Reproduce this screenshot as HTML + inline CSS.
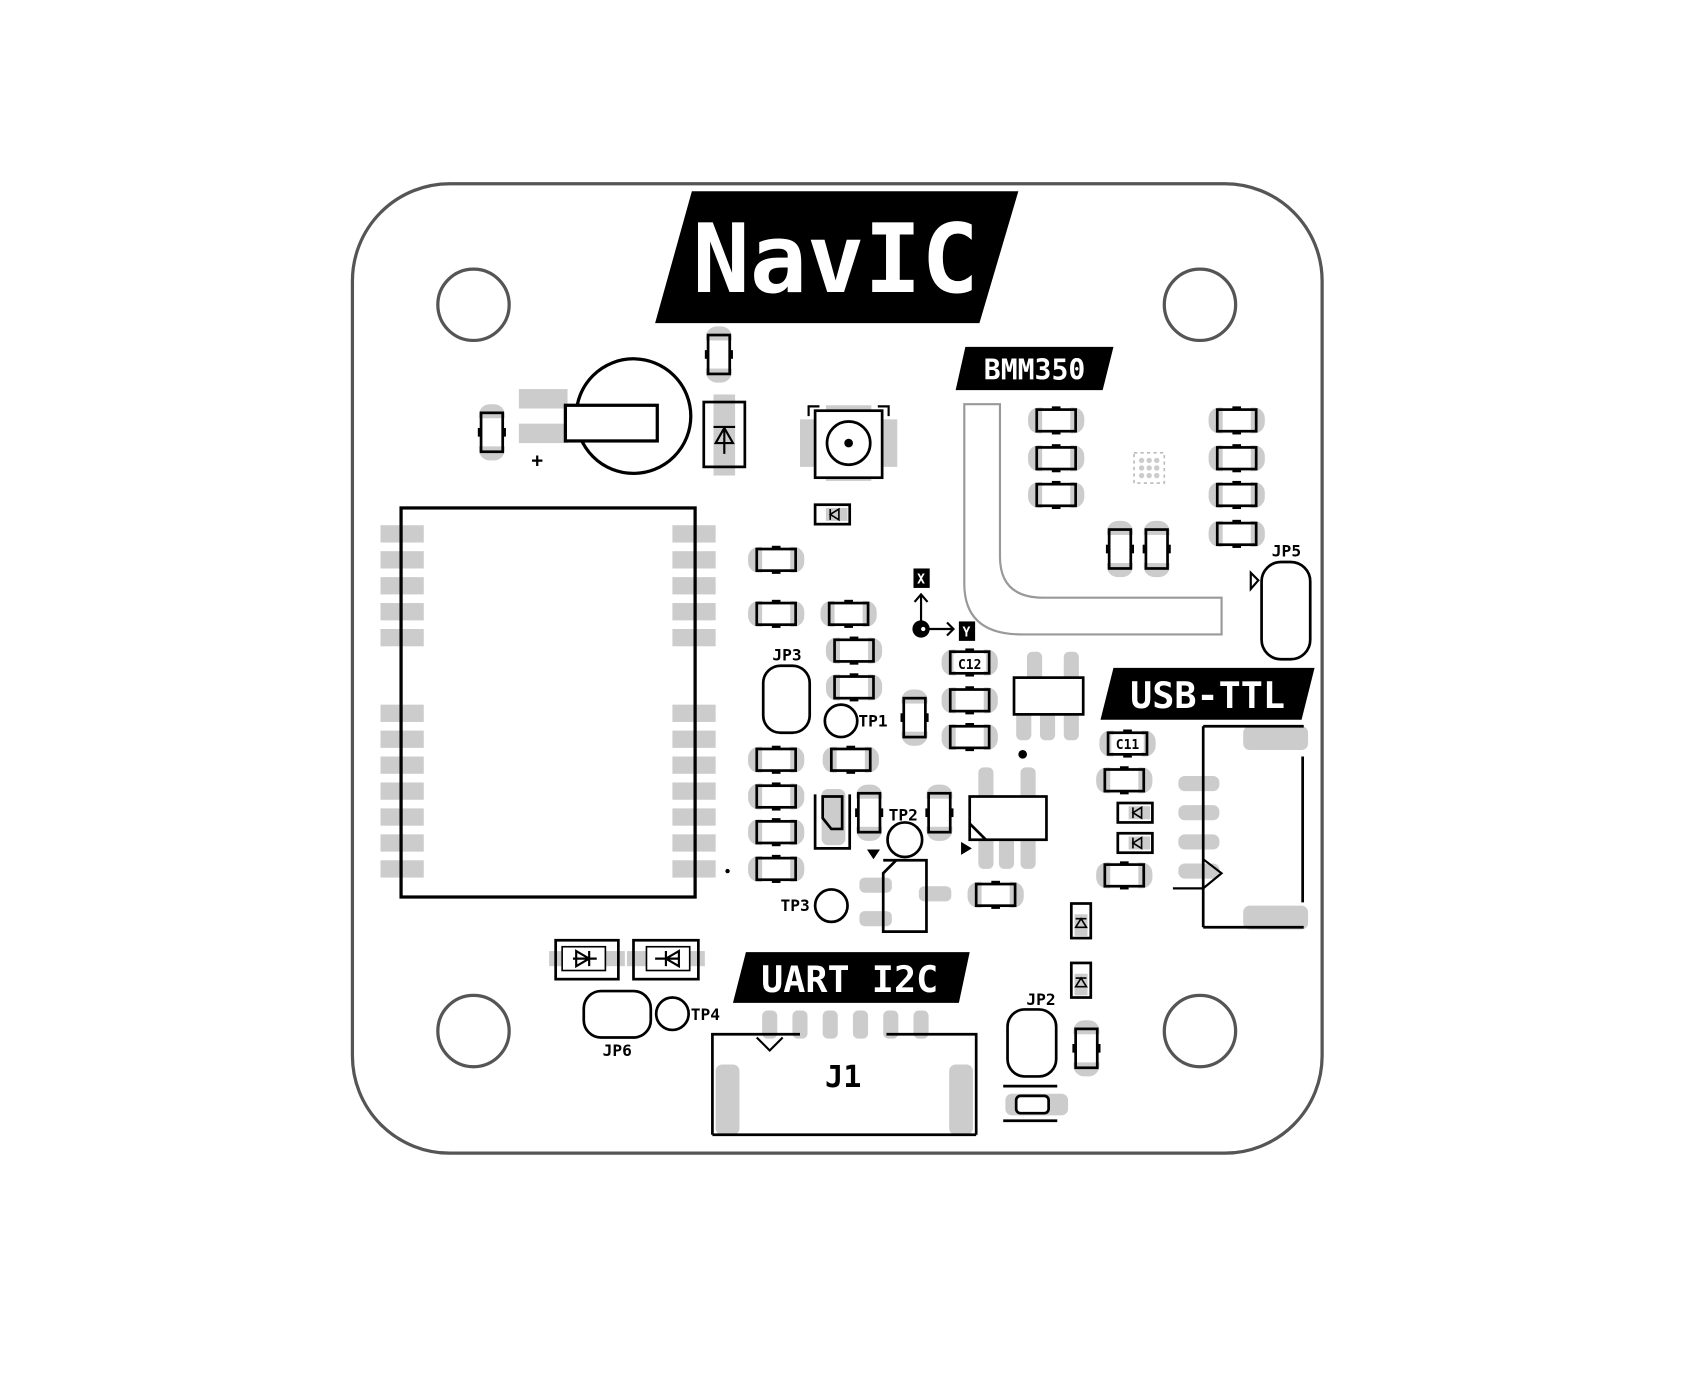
<!DOCTYPE html>
<html><head><meta charset="utf-8"><style>
html,body{margin:0;padding:0;background:#fff;}
svg{display:block;}
text{font-family:"DejaVu Sans Mono","Liberation Mono",monospace;font-weight:bold;}
</style></head><body>
<svg width="1694" height="1392" viewBox="0 0 1567 1288" preserveAspectRatio="none" xmlns="http://www.w3.org/2000/svg">
<defs>
<g id="r"><rect x="-26" y="-12" width="52" height="24" rx="10" fill="#ccc"/><rect x="-13" y="-12" width="26" height="24" fill="#fff"/><rect x="-18" y="-10" width="36" height="20" fill="none" stroke="#000" stroke-width="2.5"/><rect x="-4" y="-13" width="8" height="3" fill="#000"/><rect x="-4" y="10" width="8" height="3" fill="#000"/></g>
<g id="rv"><use href="#r" transform="rotate(90)"/></g>
<g id="d"><rect x="-16" y="-9" width="32" height="18" fill="#fff" stroke="#000" stroke-width="2.5"/><rect x="-6" y="-6" width="20" height="12" fill="#ccc"/><path d="M-2 -5 L-2 5 M6 -5 L-2 0 L6 5 Z" stroke="#000" stroke-width="1.5" fill="none"/></g>
</defs>
<rect width="1567" height="1288" fill="#fff"/>
<rect x="326" y="170" width="897" height="897" rx="90" fill="#fff" stroke="#555" stroke-width="3"/>
<g fill="#fff" stroke="#555" stroke-width="3">
<circle cx="438" cy="282" r="33"/><circle cx="1110" cy="282" r="33"/><circle cx="438" cy="954" r="33"/><circle cx="1110" cy="954" r="33"/>
</g>
<polygon points="640,177 942,177 906,299 606,299" fill="#000"/>
<text x="773" y="270" font-size="88" fill="#fff" text-anchor="middle">NavIC</text>
<polygon points="893,321 1030,321 1020,361 884,361" fill="#000"/>
<text x="957" y="351" font-size="26" fill="#fff" text-anchor="middle">BMM350</text>
<polygon points="1030,618 1216,618 1204,666 1018,666" fill="#000"/>
<text x="1117" y="655" font-size="34" fill="#fff" text-anchor="middle">USB-TTL</text>
<polygon points="690,881 897,881 887,928 678,928" fill="#000"/>
<text x="786" y="918" font-size="34" fill="#fff" text-anchor="middle" xml:space="preserve">UART I2C</text>
<g fill="#ccc">
<rect x="352" y="486" width="40" height="16"/><rect x="352" y="510" width="40" height="16"/><rect x="352" y="534" width="40" height="16"/><rect x="352" y="558" width="40" height="16"/><rect x="352" y="582" width="40" height="16"/>
<rect x="352" y="652" width="40" height="16"/><rect x="352" y="676" width="40" height="16"/><rect x="352" y="700" width="40" height="16"/><rect x="352" y="724" width="40" height="16"/><rect x="352" y="748" width="40" height="16"/><rect x="352" y="772" width="40" height="16"/><rect x="352" y="796" width="40" height="16"/>
<rect x="622" y="486" width="40" height="16"/><rect x="622" y="510" width="40" height="16"/><rect x="622" y="534" width="40" height="16"/><rect x="622" y="558" width="40" height="16"/><rect x="622" y="582" width="40" height="16"/>
<rect x="622" y="652" width="40" height="16"/><rect x="622" y="676" width="40" height="16"/><rect x="622" y="700" width="40" height="16"/><rect x="622" y="724" width="40" height="16"/><rect x="622" y="748" width="40" height="16"/><rect x="622" y="772" width="40" height="16"/><rect x="622" y="796" width="40" height="16"/>
</g>
<rect x="371" y="470" width="272" height="360" fill="none" stroke="#000" stroke-width="3"/>
<circle cx="673" cy="806" r="2" fill="#000"/>
<rect x="480" y="360" width="45" height="18" fill="#ccc"/><rect x="480" y="392" width="45" height="18" fill="#ccc"/>
<circle cx="586" cy="385" r="53" fill="#fff" stroke="#000" stroke-width="3"/>
<rect x="523" y="375" width="85" height="33" fill="#fff" stroke="#000" stroke-width="3"/>
<text x="497" y="432" font-size="18" text-anchor="middle">+</text>
<rect x="660" y="365" width="20" height="75" fill="#ccc"/>
<rect x="651" y="372" width="38" height="60" fill="none" stroke="#000" stroke-width="2.5"/>
<path d="M660 395 H680 M662 410 H678 L670 396 Z M670 398 V420" stroke="#000" stroke-width="2" fill="none"/>
<rect x="740" y="388" width="90" height="44" fill="#ccc"/>
<rect x="764" y="375" width="42" height="70" fill="#ccc"/>
<rect x="754" y="380" width="62" height="62" fill="#fff" stroke="#000" stroke-width="2.5"/>
<circle cx="785" cy="410" r="20" fill="none" stroke="#000" stroke-width="2.5"/><circle cx="785" cy="410" r="4" fill="#000"/>
<path d="M748 385 V376 H758 M822 385 V376 H812" stroke="#000" stroke-width="2" fill="none"/>
<path d="M892 374 V540 Q892 587 945 587 H1130 V553 H965 Q925 553 925 515 V374 Z" fill="none" stroke="#999" stroke-width="2"/>
<rect x="1049" y="419" width="28" height="28" fill="#fff" stroke="#bbb" stroke-width="1.5" stroke-dasharray="3 3"/>
<g fill="#ccc"><circle cx="1056" cy="426" r="2.5"/><circle cx="1063" cy="426" r="2.5"/><circle cx="1070" cy="426" r="2.5"/><circle cx="1056" cy="433" r="2.5"/><circle cx="1063" cy="433" r="2.5"/><circle cx="1070" cy="433" r="2.5"/><circle cx="1056" cy="440" r="2.5"/><circle cx="1063" cy="440" r="2.5"/><circle cx="1070" cy="440" r="2.5"/></g>
<use href="#r" x="718" y="518"/><use href="#r" x="718" y="568"/><use href="#r" x="785" y="568"/>
<use href="#r" x="790" y="602"/><use href="#r" x="790" y="636"/><use href="#r" x="718" y="703"/><use href="#r" x="787" y="703"/>
<use href="#r" x="718" y="737"/><use href="#r" x="718" y="770"/><use href="#r" x="718" y="804"/>
<use href="#r" x="897" y="648"/><use href="#r" x="897" y="682"/><use href="#r" x="1040" y="722"/><use href="#r" x="1040" y="810"/><use href="#r" x="921" y="828"/>
<use href="#r" x="977" y="389"/><use href="#r" x="977" y="424"/><use href="#r" x="977" y="458"/>
<use href="#r" x="1144" y="389"/><use href="#r" x="1144" y="424"/><use href="#r" x="1144" y="458"/><use href="#r" x="1144" y="494"/>
<use href="#r" x="897" y="613"/><use href="#r" x="1043" y="688"/>
<rect x="882" y="605" width="30" height="16" fill="#fff"/><text x="897" y="619" font-size="12" font-weight="normal" text-anchor="middle">C12</text>
<rect x="1028" y="680" width="30" height="16" fill="#fff"/><text x="1043" y="693" font-size="12" font-weight="normal" text-anchor="middle">C11</text>
<use href="#rv" x="665" y="328"/><use href="#rv" x="455" y="400"/><use href="#rv" x="846" y="664"/><use href="#rv" x="869" y="752"/><use href="#rv" x="804" y="752"/>
<use href="#rv" x="1036" y="508"/><use href="#rv" x="1070" y="508"/><use href="#rv" x="1005" y="970"/>
<use href="#d" x="770" y="476"/><use href="#d" x="1050" y="752"/><use href="#d" x="1050" y="780"/>
<g transform="translate(1000,852) rotate(90)"><use href="#d"/></g><g transform="translate(1000,907) rotate(90)"><use href="#d"/></g>
<rect x="760" y="730" width="22" height="52" rx="6" fill="#ccc"/>
<path d="M754 735 V785 H786 V735" fill="none" stroke="#000" stroke-width="2.5"/>
<path d="M761 737 H779 V767 H769 L761 757 Z" fill="none" stroke="#000" stroke-width="2.5"/>
<rect x="845" y="526" width="15" height="18" fill="#000"/><text x="852" y="540" font-size="12" fill="#fff" text-anchor="middle">X</text>
<rect x="887" y="575" width="15" height="18" fill="#000"/><text x="894" y="589" font-size="12" fill="#fff" text-anchor="middle">Y</text>
<path d="M852 575 V550 M846 557 L852 550 L858 557 M858 582 H882 M876 576 L882 582 L876 588" stroke="#000" stroke-width="2" fill="none"/>
<circle cx="852" cy="582" r="8" fill="#000"/><circle cx="854" cy="582" r="2" fill="#fff"/>
<rect x="706" y="616" width="43" height="62" rx="16" fill="none" stroke="#000" stroke-width="2.5"/>
<text x="728" y="611" font-size="15" text-anchor="middle">JP3</text>
<circle cx="778" cy="667" r="15" fill="none" stroke="#000" stroke-width="2.5"/><text x="794" y="672" font-size="15">TP1</text>
<circle cx="837" cy="777" r="16" fill="none" stroke="#000" stroke-width="2.5"/><text x="822" y="759" font-size="15">TP2</text>
<circle cx="769" cy="838" r="15" fill="none" stroke="#000" stroke-width="2.5"/><text x="722" y="843" font-size="15">TP3</text>
<circle cx="622" cy="938" r="15" fill="none" stroke="#000" stroke-width="2.5"/><text x="639" y="944" font-size="15">TP4</text>
<g fill="#ccc"><rect x="950" y="603" width="14" height="30" rx="5"/><rect x="984" y="603" width="14" height="30" rx="5"/>
<rect x="940" y="655" width="14" height="30" rx="5"/><rect x="962" y="655" width="14" height="30" rx="5"/><rect x="984" y="655" width="14" height="30" rx="5"/></g>
<rect x="938" y="627" width="64" height="34" fill="#fff" stroke="#000" stroke-width="2.5"/>
<circle cx="946" cy="698" r="4" fill="#000"/>
<g fill="#ccc"><rect x="905" y="710" width="14" height="36" rx="5"/><rect x="944" y="710" width="14" height="36" rx="5"/>
<rect x="905" y="768" width="14" height="36" rx="5"/><rect x="924" y="768" width="14" height="36" rx="5"/><rect x="944" y="768" width="14" height="36" rx="5"/></g>
<rect x="897" y="737" width="71" height="40" fill="#fff" stroke="#000" stroke-width="2.5"/>
<path d="M897 762 L912 777" stroke="#000" stroke-width="2.5"/>
<polygon points="889,779 889,791 899,785" fill="#000"/>
<rect x="795" y="812" width="30" height="14" rx="5" fill="#ccc"/><rect x="795" y="843" width="30" height="14" rx="5" fill="#ccc"/><rect x="850" y="820" width="30" height="14" rx="5" fill="#ccc"/>
<path d="M817 796 H857 V862 H817 V808 L829 796" fill="none" stroke="#000" stroke-width="2.5"/>
<polygon points="802,786 814,786 808,795" fill="#000"/>
<rect x="1167" y="520" width="45" height="90" rx="18" fill="none" stroke="#000" stroke-width="2.5"/>
<text x="1190" y="515" font-size="15" text-anchor="middle">JP5</text>
<polygon points="1157,530 1157,545 1164,537" fill="none" stroke="#000" stroke-width="2"/>
<g fill="#ccc"><rect x="1090" y="718" width="38" height="14" rx="6"/><rect x="1090" y="745" width="38" height="14" rx="6"/><rect x="1090" y="772" width="38" height="14" rx="6"/><rect x="1090" y="799" width="38" height="14" rx="6"/>
<rect x="1150" y="672" width="60" height="22" rx="6"/><rect x="1150" y="838" width="60" height="22" rx="6"/></g>
<path d="M1205 700 V835 M1113 672 H1206 M1113 858 H1206 M1113 672 V858" fill="none" stroke="#000" stroke-width="2.5"/>
<path d="M1085 822 H1113 M1113 795 L1130 808 L1113 822" fill="none" stroke="#000" stroke-width="2"/>
<g fill="#ccc"><rect x="705" y="935" width="14" height="26" rx="5"/><rect x="733" y="935" width="14" height="26" rx="5"/><rect x="761" y="935" width="14" height="26" rx="5"/><rect x="789" y="935" width="14" height="26" rx="5"/><rect x="817" y="935" width="14" height="26" rx="5"/><rect x="845" y="935" width="14" height="26" rx="5"/>
<rect x="662" y="985" width="22" height="65" rx="6"/><rect x="878" y="985" width="22" height="65" rx="6"/></g>
<path d="M659 1050 V957 H740 M903 1050 V957 H820 M659 1050 H903" fill="none" stroke="#000" stroke-width="2.5"/>
<path d="M700 960 L712 972 L724 960" fill="none" stroke="#000" stroke-width="2"/>
<text x="780" y="1006" font-size="28" font-weight="normal" text-anchor="middle">J1</text>
<rect x="508" y="880" width="70" height="14" fill="#ccc"/><rect x="580" y="880" width="72" height="14" fill="#ccc"/>
<rect x="514" y="870" width="58" height="36" fill="none" stroke="#000" stroke-width="2.5"/>
<rect x="586" y="870" width="60" height="36" fill="none" stroke="#000" stroke-width="2.5"/>
<rect x="520" y="876" width="40" height="22" fill="#fff" stroke="#000" stroke-width="1.5"/>
<rect x="598" y="876" width="40" height="22" fill="#fff" stroke="#000" stroke-width="1.5"/>
<path d="M530 887 H552 M533 880 L545 887 L533 894 Z M545 880 V894" stroke="#000" stroke-width="2" fill="none"/>
<path d="M606 887 H628 M628 880 L616 887 L628 894 Z M616 880 V894" stroke="#000" stroke-width="2" fill="none"/>
<rect x="540" y="917" width="62" height="43" rx="16" fill="none" stroke="#000" stroke-width="2.5"/>
<text x="571" y="977" font-size="15" text-anchor="middle">JP6</text>
<rect x="932" y="934" width="45" height="62" rx="16" fill="none" stroke="#000" stroke-width="2.5"/>
<text x="963" y="930" font-size="15" text-anchor="middle">JP2</text>
<rect x="930" y="1012" width="58" height="20" rx="6" fill="#ccc"/>
<path d="M928 1005 H978 M928 1037 H978" stroke="#000" stroke-width="2.5"/>
<rect x="940" y="1014" width="30" height="16" rx="4" fill="#fff" stroke="#000" stroke-width="2.5"/>
</svg>
</body></html>
